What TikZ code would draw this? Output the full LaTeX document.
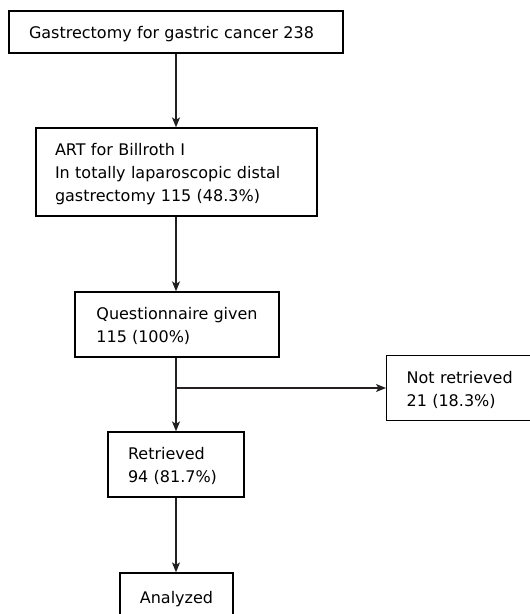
\documentclass[tikz,border=0pt]{standalone}
\usepackage{fontspec}
\setmainfont{DejaVu Sans}
\usetikzlibrary{arrows.meta}
\definecolor{ink}{HTML}{231F20}
\newcommand{\topstrut}[1][16pt]{\rule{0pt}{#1}}
\begin{document}
\begin{tikzpicture}[x=1pt,y=1pt,
  box/.style={draw=black, line width=1.3pt, align=left, inner ysep=0pt,
    font=\fontsize{16}{23}\selectfont},
  conn/.style={draw=ink, line width=1.3pt, -{Stealth[length=10pt,width=8pt,inset=2.5pt]}}]
\useasboundingbox (0,0) rectangle (530,-614);
\clip (0,0) rectangle (530,-614);
\node[box, text width=294pt, inner xsep=20pt, minimum height=42pt] (b1) at (176,-32) {\topstrut Gastrectomy for gastric cancer 238};
\node[box, text width=243pt, inner xsep=19pt, minimum height=88pt] (b2) at (176.5,-172) {\topstrut[17pt]ART for Billroth I\\In totally laparoscopic distal\\gastrectomy 115 (48.3\%)};
\node[box, minimum width=204pt, minimum height=65pt] (b3) at (177,-324.5) {\topstrut Questionnaire given\\115 (100\%)};
\node[box, anchor=west, text width=140pt, inner xsep=20pt, minimum height=65pt] (b4) at (386,-388) {\topstrut Not retrieved\\21 (18.3\%)};
\node[box, text width=96pt, inner xsep=20pt, minimum height=65pt] (b5) at (176,-464.5) {\topstrut Retrieved\\94 (81.7\%)};
\node[box, minimum width=113pt, minimum height=48pt] (b6) at (176.5,-597) {\topstrut Analyzed};
\coordinate (j) at (176,-388);
\draw[conn] (b1.south) -- (b1.south |- b2.north);
\draw[conn] (b2.south -| j) -- (b3.north -| j);
\draw[conn] (b3.south -| j) -- (b5.north -| j);
\draw[conn] (j) -- (b4.west);
\draw[conn] (b5.south -| j) -- (b6.north -| j);
\end{tikzpicture}
\end{document}
